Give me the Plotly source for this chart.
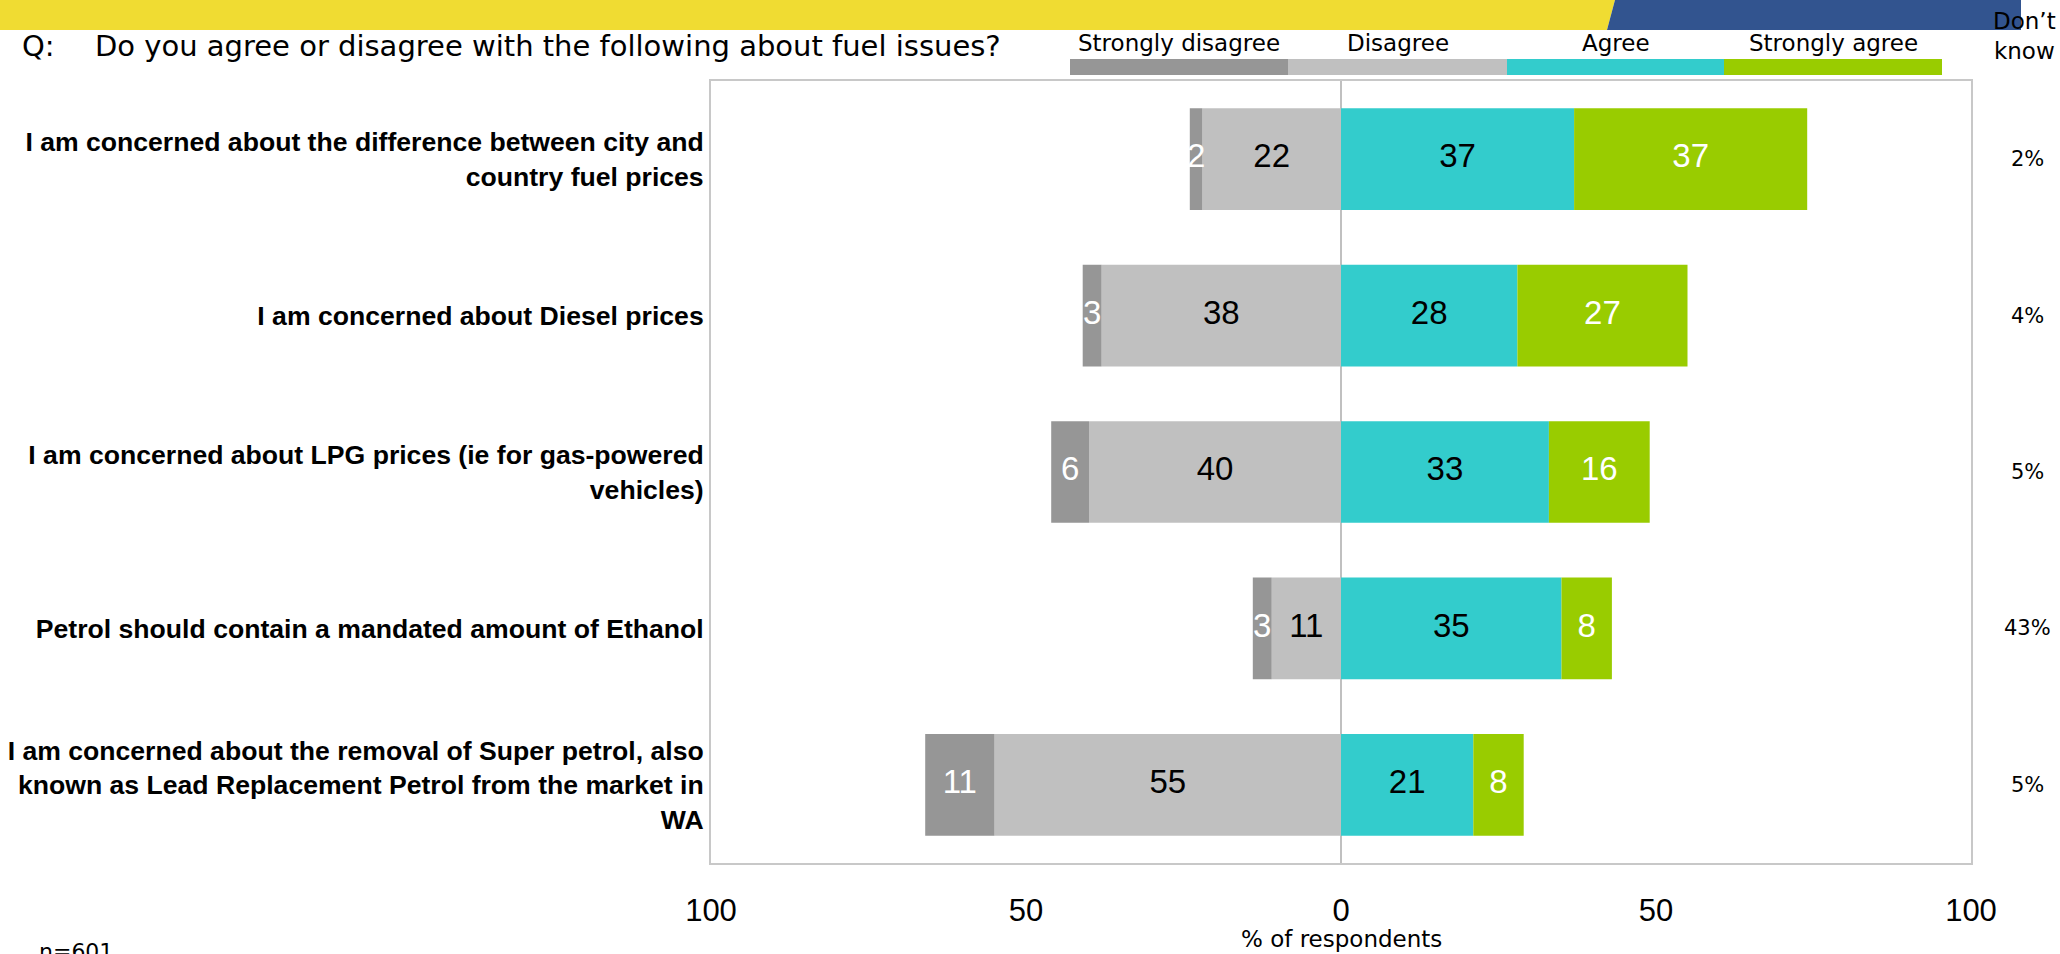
import plotly.graph_objects as go

# ── Data ──────────────────────────────────────────────────────────
categories = [
    'I am concerned about the difference between city and<br>country fuel prices',
    'I am concerned about Diesel prices',
    'I am concerned about LPG prices (ie for gas-powered<br>vehicles)',
    'Petrol should contain a mandated amount of Ethanol',
    'I am concerned about the removal of Super petrol, also<br>known as Lead Replacement Petrol from the market in<br>WA',
]
strongly_disagree = [2, 3, 6, 3, 11]
disagree = [22, 38, 40, 11, 55]
agree = [37, 28, 33, 35, 21]
strongly_agree = [37, 27, 16, 8, 8]
dont_know = [2, 4, 5, 43, 5]

series_names = ['Strongly disagree', 'Disagree', 'Agree', 'Strongly agree']
colors = ['#969696', '#C0C0C0', '#33CCCC', '#99CC00']
label_colors = ['white', 'black', 'black', 'white']

tick_vals = [-100, -50, 0, 50, 100]
tick_text = ['100', '50', '0', '50', '100']

# ── Geometry helpers (pixel -> paper) ─────────────────────────────
W, H = 2060, 954
PL, PR, PT, PB = 711, 1971, 81, 863


def px(x):
    return (x - PL) / (PR - PL)


def py(y):
    return (PB - y) / (PB - PT)


LAB = 'Liberation Sans, Arial, sans-serif'
TAH = 'DejaVu Sans, sans-serif'

fig = go.Figure()

# negative side: disagree next to zero, strongly disagree outside
fig.add_trace(go.Bar(y=categories, x=[-v for v in disagree], orientation='h',
                     marker=dict(color=colors[1], line=dict(width=0)), name='Disagree'))
fig.add_trace(go.Bar(y=categories, x=[-v for v in strongly_disagree], orientation='h',
                     marker=dict(color=colors[0], line=dict(width=0)), name='Strongly disagree'))
fig.add_trace(go.Bar(y=categories, x=agree, orientation='h',
                     marker=dict(color=colors[2], line=dict(width=0)), name='Agree'))
fig.add_trace(go.Bar(y=categories, x=strongly_agree, orientation='h',
                     marker=dict(color=colors[3], line=dict(width=0)), name='Strongly agree'))

# segment labels centred in each segment
centres = [
    [-(d + s / 2) for d, s in zip(disagree, strongly_disagree)],
    [-d / 2 for d in disagree],
    [a / 2 for a in agree],
    [a + s / 2 for a, s in zip(agree, strongly_agree)],
]
values = [strongly_disagree, disagree, agree, strongly_agree]
for cx, vals, col in zip(centres, values, label_colors):
    fig.add_trace(go.Scatter(
        x=cx, y=categories, mode='text', text=[str(v) for v in vals],
        textfont=dict(family=LAB, size=33, color=col),
        textposition='middle center', cliponaxis=False, hoverinfo='skip'))

shapes = []
annotations = []

# header band
shapes.append(dict(type='path', xref='paper', yref='paper', line=dict(width=0),
                   fillcolor='#F0DC32',
                   path=f'M {px(0)},{py(0)} L {px(1615)},{py(0)} L {px(1607)},{py(30)} L {px(0)},{py(30)} Z'))
shapes.append(dict(type='path', xref='paper', yref='paper', line=dict(width=0),
                   fillcolor='#32548F',
                   path=f'M {px(1615)},{py(0)} L {px(2021)},{py(0)} L {px(2021)},{py(30)} L {px(1607)},{py(30)} Z'))

# legend swatches + labels
edges = [1070, 1288, 1507, 1724, 1942]
for i, name in enumerate(series_names):
    shapes.append(dict(type='rect', xref='paper', yref='paper', line=dict(width=0),
                       fillcolor=colors[i],
                       x0=px(edges[i]), x1=px(edges[i + 1]), y0=py(75), y1=py(59)))
    annotations.append(dict(xref='paper', yref='paper', x=px((edges[i] + edges[i + 1]) / 2),
                            y=py(43), text=name, showarrow=False, xanchor='center',
                            yanchor='middle', font=dict(family=TAH, size=23, color='black')))

# title
annotations.append(dict(xref='paper', yref='paper', x=px(20), y=py(46), text='Q:',
                        showarrow=False, xanchor='left', yanchor='middle',
                        font=dict(family=TAH, size=29, color='black')))
annotations.append(dict(xref='paper', yref='paper', x=px(93), y=py(46),
                        text='Do you agree or disagree with the following about fuel issues?',
                        showarrow=False, xanchor='left', yanchor='middle',
                        font=dict(family=TAH, size=29, color='black')))

# don't know column
annotations.append(dict(xref='paper', yref='paper', x=px(2024), y=py(36),
                        text='Don’t<br>know', showarrow=False, xanchor='center',
                        yanchor='middle', font=dict(family=TAH, size=23, color='black')))
for cat, v in zip(categories, dont_know):
    annotations.append(dict(xref='paper', yref='y', x=px(2027), y=cat, text=f'{v}%',
                            showarrow=False, xanchor='center', yanchor='middle',
                            font=dict(family=TAH, size=21, color='black')))

# axis title and base
annotations.append(dict(xref='paper', yref='paper', x=px(1341), y=py(939),
                        text='% of respondents', showarrow=False, xanchor='center',
                        yanchor='middle', font=dict(family=TAH, size=23, color='black')))
annotations.append(dict(xref='paper', yref='paper', x=px(37), y=py(951), text='n=601',
                        showarrow=False, xanchor='left', yanchor='middle',
                        font=dict(family=TAH, size=22, color='black')))

fig.update_layout(
    width=W, height=H,
    margin=dict(l=PL, r=W - PR, t=PT, b=H - PB, pad=0),
    barmode='relative', bargap=0.35,
    plot_bgcolor='white', paper_bgcolor='white',
    showlegend=False,
    shapes=shapes, annotations=annotations,
    xaxis=dict(range=[-100, 100], tickvals=tick_vals, ticktext=tick_text,
               showgrid=False, zeroline=True, zerolinecolor='#C0C0C0', zerolinewidth=2,
               showline=True, mirror=True, linecolor='#C8C8C8', linewidth=2,
               ticks='', ticklabelstandoff=19, automargin=False,
               tickfont=dict(family=LAB, size=31, color='black'), fixedrange=True),
    yaxis=dict(autorange='reversed', showgrid=False, zeroline=False,
               showline=True, mirror=True, linecolor='#C8C8C8', linewidth=2,
               ticks='', ticklabelstandoff=0, automargin=False,
               tickfont=dict(family=LAB, size=26.6, color='black', weight='bold'),
               fixedrange=True),
)

fig.write_html('out.html', config={'displayModeBar': False},
               post_script="document.body.style.margin='0';")
